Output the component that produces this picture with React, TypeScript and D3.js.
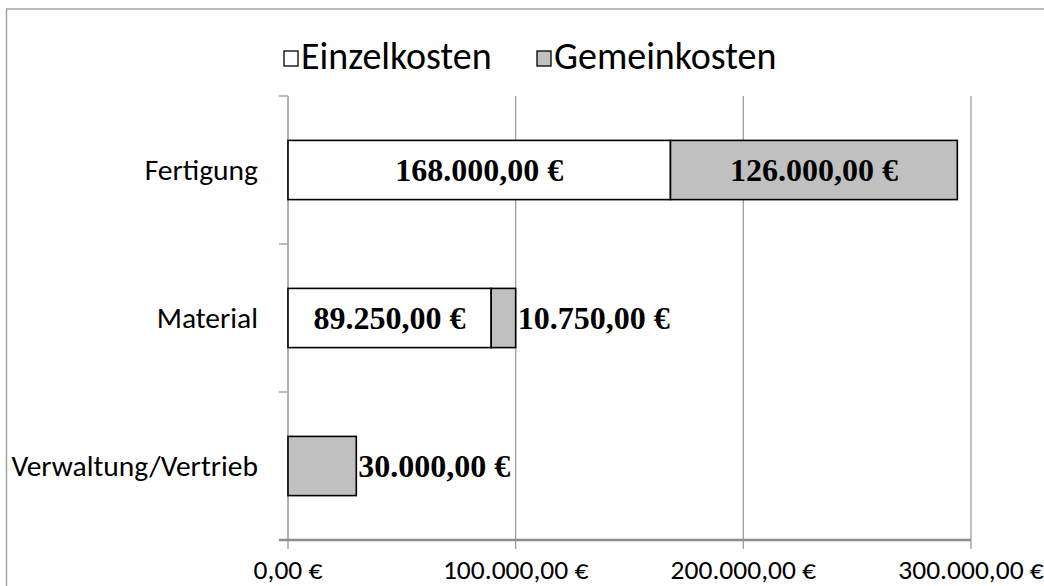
import React from "react";
import * as d3 from "d3";

const categories = ["Fertigung", "Material", "Verwaltung/Vertrieb"];
const einzelkosten = [168000, 89250, 0];
const gemeinkosten = [126000, 10750, 30000];
const seriesNames = ["Einzelkosten", "Gemeinkosten"];
const xTicks = [0, 100000, 200000, 300000];

const fmt = (v: number) => {
  const s = d3.format(",.2f")(v);
  return s.replace(/,/g, "X").replace(/\./g, ",").replace(/X/g, ".") + " €";
};

const W = 1044, H = 586;
const plot = { left: 288, right: 971, top: 96, bottom: 540 };

export default function App() {
  const x = d3.scaleLinear().domain([0, 300000]).range([plot.left, plot.right]);
  const y = d3.scaleBand().domain(categories).range([plot.top, plot.bottom]).paddingInner(0.6).paddingOuter(0.3);
  const bandEdges = d3.range(categories.length + 1).map((i) => plot.top + (i * (plot.bottom - plot.top)) / categories.length);
  const labelFont = "'Liberation Serif', 'Times New Roman', serif";
  const sansFont = "'Carlito', 'Open Sans', 'Noto Sans', sans-serif";
  const charW = 15.6;

  const segments: any[] = [];
  categories.forEach((c, i) => {
    const vals = [einzelkosten[i], gemeinkosten[i]];
    let acc = 0;
    vals.forEach((v, s) => {
      if (v > 0) segments.push({ c, s, x0: acc, x1: acc + v, v });
      acc += v;
    });
  });

  return (
    <svg width={W} height={H} style={{ position: "absolute", left: 0, top: 0, background: "#fff" }}>
      <rect x={6.5} y={9} width={1100} height={700} fill="#fff" stroke="#a6a6a6" strokeWidth={1.5} />
      {xTicks.slice(1).map((t) => (
        <line key={t} x1={x(t)} x2={x(t)} y1={plot.top} y2={plot.bottom} stroke="#a0a0a0" strokeWidth={1.3} />
      ))}
      <line x1={plot.left} x2={plot.left} y1={plot.top} y2={plot.bottom} stroke="#999" strokeWidth={1.5} />
      {bandEdges.map((e, i) => (
        <line key={i} x1={plot.left - 9} x2={plot.left} y1={e} y2={e} stroke="#999" strokeWidth={1.3} />
      ))}
      <line x1={plot.left - 9} x2={plot.right} y1={plot.bottom} y2={plot.bottom} stroke="#8c8c8c" strokeWidth={2.5} />
      {xTicks.map((t) => (
        <g key={t}>
          <line x1={x(t)} x2={x(t)} y1={plot.bottom} y2={plot.bottom + 9} stroke="#999" strokeWidth={1.3} />
          <text x={x(t)} y={579} textAnchor="middle" fontFamily={sansFont} fontSize={27.5} fill="#000">
            {fmt(t)}
          </text>
        </g>
      ))}
      {categories.map((c) => (
        <text key={c} x={258} y={(y(c) as number) + y.bandwidth() / 2 + 10} textAnchor="end" fontFamily={sansFont} fontSize={29.5} fill="#000">
          {c}
        </text>
      ))}
      {segments.map((sg, k) => (
        <rect key={k} x={x(sg.x0)} y={y(sg.c)} width={x(sg.x1) - x(sg.x0)} height={y.bandwidth()}
          fill={sg.s === 0 ? "#ffffff" : "#c0c0c0"} stroke="#000" strokeWidth={1.6} />
      ))}
      {segments.map((sg, k) => {
        const w = x(sg.x1) - x(sg.x0);
        const txt = fmt(sg.v);
        const fits = w > txt.length * charW * 0.85;
        const cy = (y(sg.c) as number) + y.bandwidth() / 2 + 11;
        return (
          <text key={"l" + k} x={fits ? (x(sg.x0) + x(sg.x1)) / 2 : x(sg.x1) + 2} y={cy}
            textAnchor={fits ? "middle" : "start"} fontFamily={labelFont} fontWeight="bold" fontSize={32} fill="#000">
            {txt}
          </text>
        );
      })}
      {seriesNames.map((n, i) => {
        const lx = [284, 537][i];
        return (
          <g key={n}>
            <rect x={lx} y={51} width={14} height={15} fill={i === 0 ? "#fff" : "#c0c0c0"} stroke="#000" strokeWidth={1.3} />
            <text x={lx + 17} y={69} fontFamily={sansFont} fontSize={38} fill="#000">{n}</text>
          </g>
        );
      })}
    </svg>
  );
}
